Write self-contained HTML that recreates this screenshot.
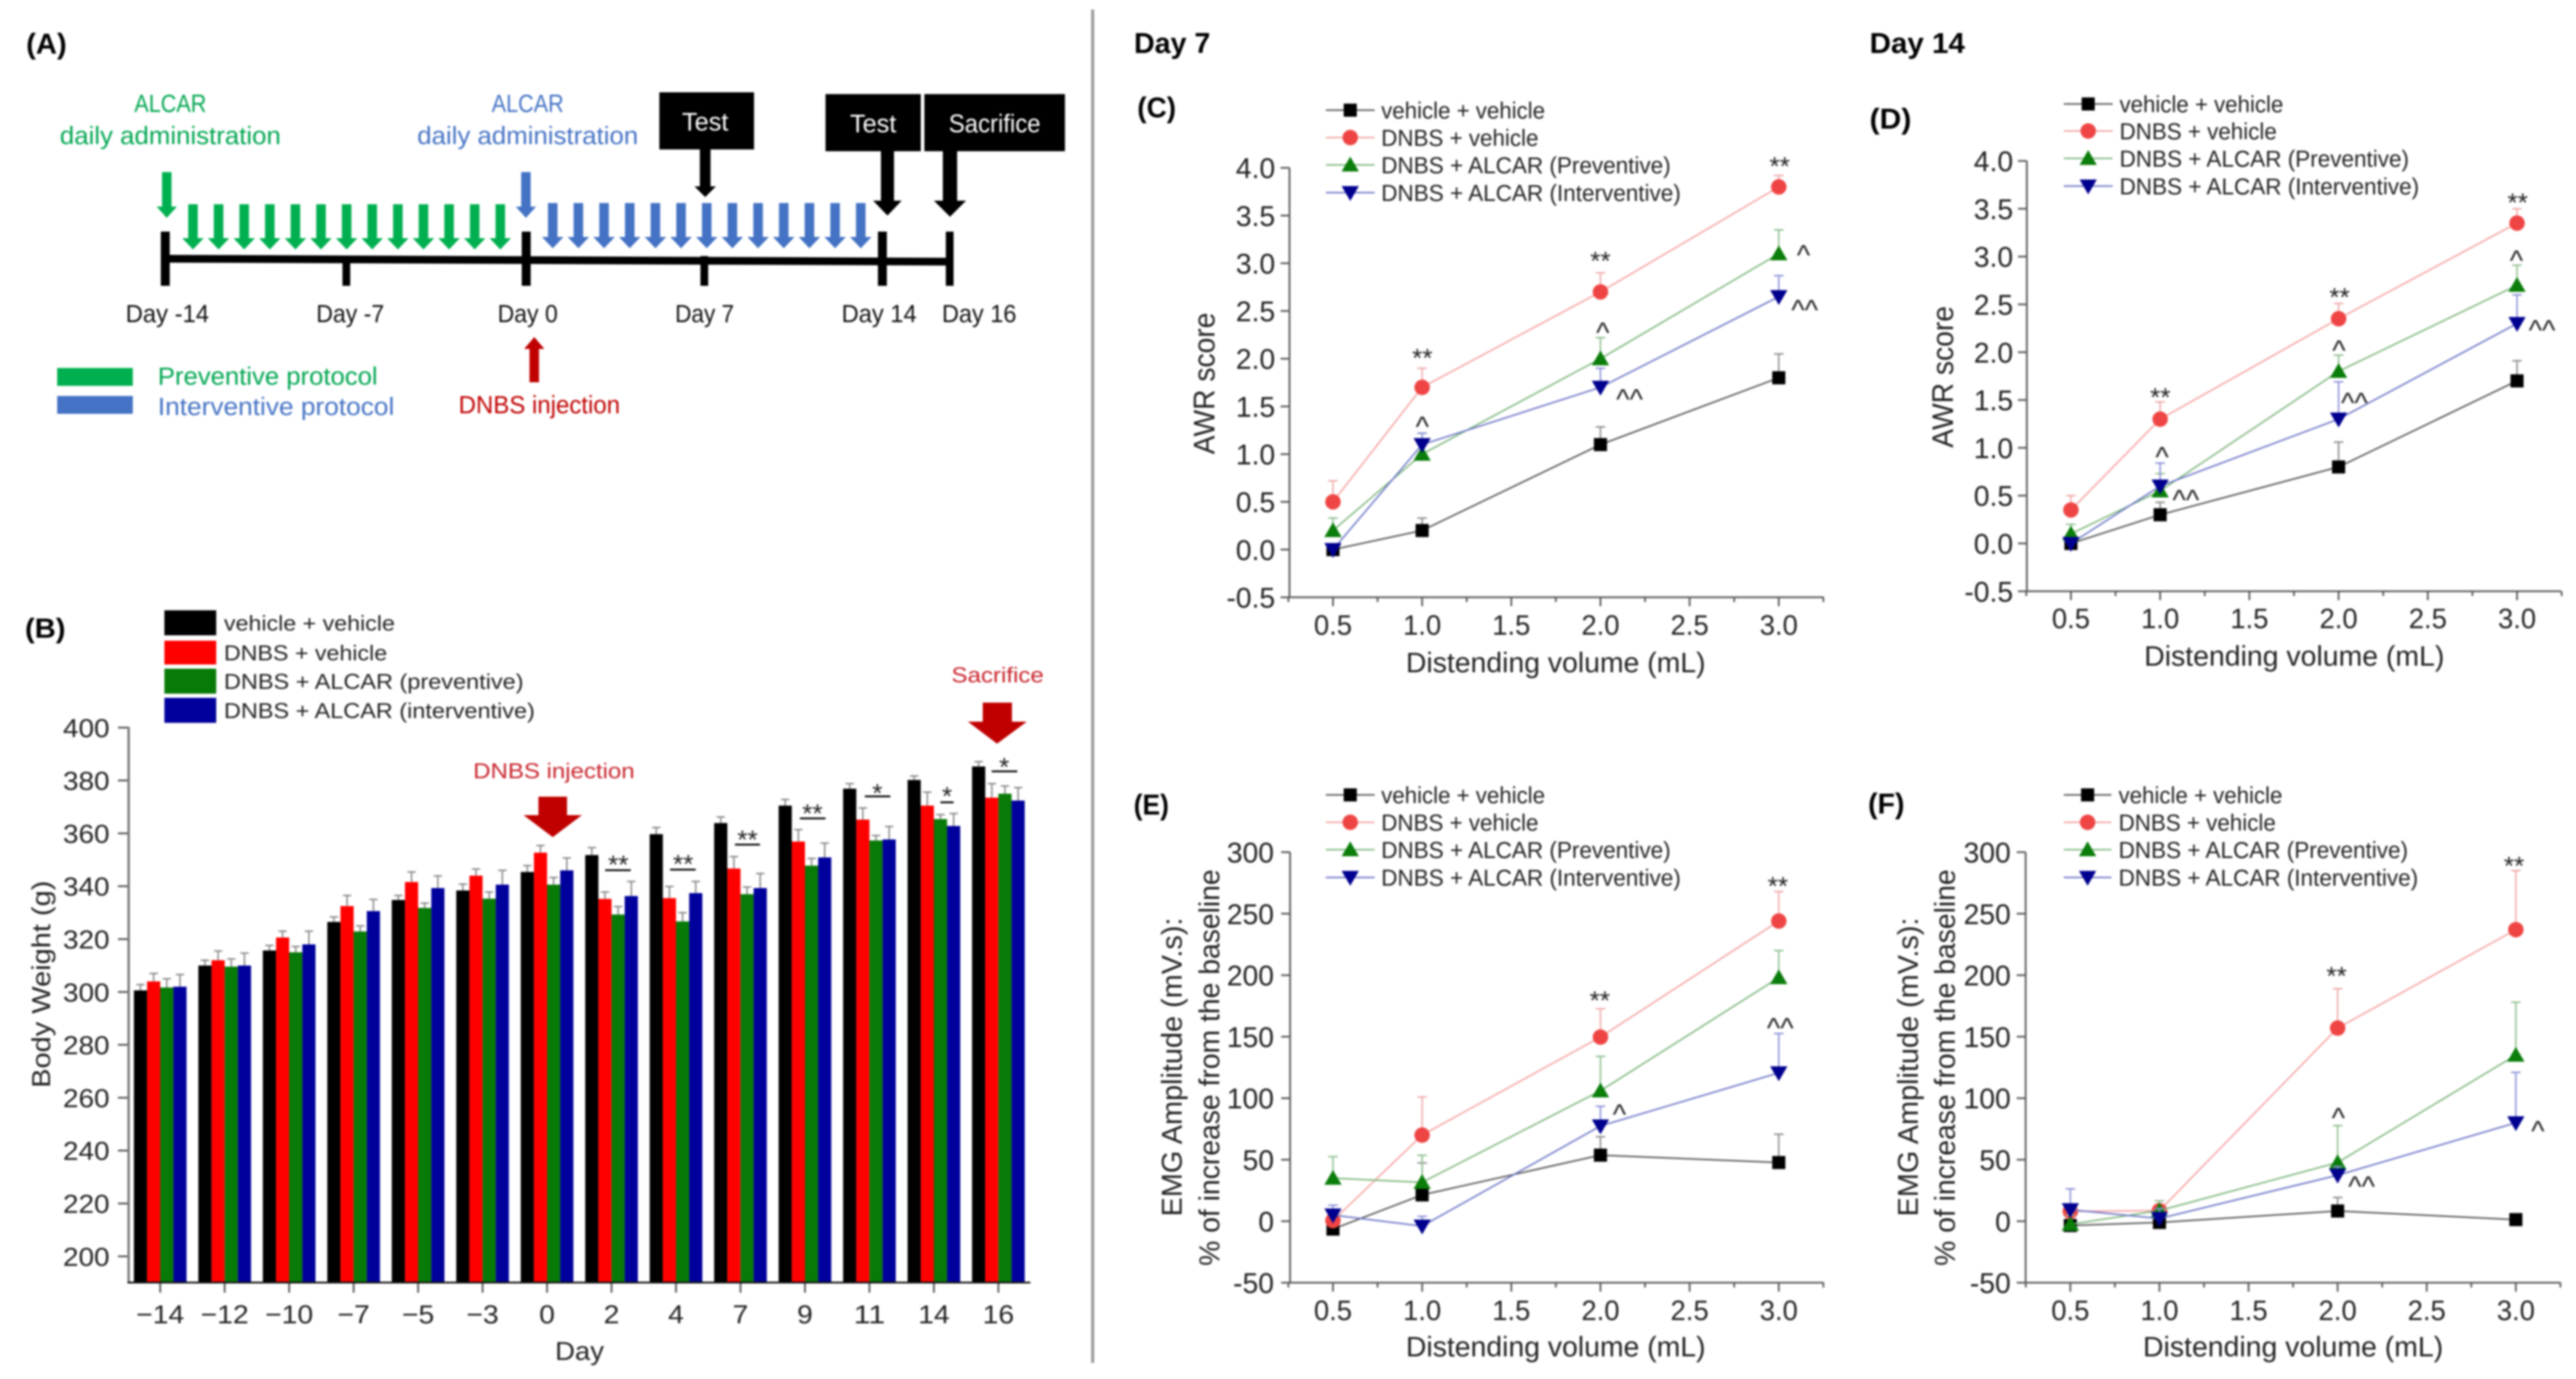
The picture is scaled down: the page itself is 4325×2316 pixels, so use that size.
<!DOCTYPE html>
<html lang="en">
<head>
<meta charset="utf-8">
<title>ALCAR protocol, body weight, AWR score and EMG amplitude</title>
<style>
html,body{margin:0;padding:0;background:#fff;width:4325px;height:2316px;overflow:hidden}
svg{display:block}
text{font-family:"Liberation Sans",Arial,sans-serif;fill:#222}
#root{filter:blur(1.7px)}
</style>
</head>
<body>
<svg id="figure" xmlns="http://www.w3.org/2000/svg" width="4325" height="2316" viewBox="0 0 4325 2316">
<rect width="4325" height="2316" fill="#fff"/>
<g id="root">

<!-- Panel A -->
<g id="panelA">
<text x="78" y="90" text-anchor="middle" font-size="48" font-weight="bold" textLength="68" lengthAdjust="spacingAndGlyphs" style="fill:#000">(A)</text>
<text x="286" y="188" text-anchor="middle" font-size="42" textLength="121" lengthAdjust="spacingAndGlyphs" style="fill:#00a651">ALCAR</text>
<text x="286" y="242" text-anchor="middle" font-size="42" textLength="371" lengthAdjust="spacingAndGlyphs" style="fill:#00a651">daily administration</text>
<text x="886" y="188" text-anchor="middle" font-size="42" textLength="121" lengthAdjust="spacingAndGlyphs" style="fill:#4472c4">ALCAR</text>
<text x="886" y="242" text-anchor="middle" font-size="42" textLength="371" lengthAdjust="spacingAndGlyphs" style="fill:#4472c4">daily administration</text>

<rect x="1107" y="155" width="159" height="96" fill="#000"/>
<text x="1184" y="219" text-anchor="middle" font-size="43" textLength="78" lengthAdjust="spacingAndGlyphs" style="fill:#fff">Test</text>
<rect x="1386" y="158" width="160" height="96" fill="#000"/>
<text x="1466" y="222" text-anchor="middle" font-size="43" textLength="78" lengthAdjust="spacingAndGlyphs" style="fill:#fff">Test</text>
<rect x="1552" y="158" width="236" height="96" fill="#000"/>
<text x="1670" y="222" text-anchor="middle" font-size="43" textLength="154" lengthAdjust="spacingAndGlyphs" style="fill:#fff">Sacrifice</text>

<polygon fill="#000" points="1175,251 1193,251 1193,313 1202,313 1184,331 1166,313 1175,313"/>
<polygon fill="#000" points="1479,254 1501,254 1501,337 1514,337 1490,362 1466,337 1479,337"/>
<polygon fill="#000" points="1583,254 1607,254 1607,337 1622,337 1595,364 1568,337 1583,337"/>

<polygon fill="#00b050" points="272,289 288,289 288,347 297,347 280,366 263,347 272,347"/>
<polygon fill="#4472c4" points="875,289 891,289 891,347 900,347 883,366 866,347 875,347"/>

<polygon fill="#000" points="278,428 1595,433 1595,446 278,441"/>
<rect x="270" y="389" width="15" height="91" fill="#000"/>
<rect x="575" y="430" width="13" height="50" fill="#000"/>
<rect x="876" y="389" width="15" height="91" fill="#000"/>
<rect x="1176" y="430" width="13" height="50" fill="#000"/>
<rect x="1474" y="389" width="15" height="91" fill="#000"/>
<rect x="1588" y="389" width="13" height="91" fill="#000"/>

<text x="281" y="541" text-anchor="middle" font-size="42" textLength="140" lengthAdjust="spacingAndGlyphs" style="fill:#111">Day -14</text>
<text x="588" y="541" text-anchor="middle" font-size="42" textLength="114" lengthAdjust="spacingAndGlyphs" style="fill:#111">Day -7</text>
<text x="886" y="541" text-anchor="middle" font-size="42" textLength="101" lengthAdjust="spacingAndGlyphs" style="fill:#111">Day 0</text>
<text x="1183" y="541" text-anchor="middle" font-size="42" textLength="99" lengthAdjust="spacingAndGlyphs" style="fill:#111">Day 7</text>
<text x="1476" y="541" text-anchor="middle" font-size="42" textLength="126" lengthAdjust="spacingAndGlyphs" style="fill:#111">Day 14</text>
<text x="1644" y="541" text-anchor="middle" font-size="42" textLength="125" lengthAdjust="spacingAndGlyphs" style="fill:#111">Day 16</text>

<rect x="96" y="618" width="127" height="30" fill="#00b050"/>
<rect x="96" y="665" width="127" height="30" fill="#4472c4"/>
<text x="265" y="646" font-size="42" textLength="369" lengthAdjust="spacingAndGlyphs" style="fill:#00a651">Preventive protocol</text>
<text x="265" y="697" font-size="42" textLength="397" lengthAdjust="spacingAndGlyphs" style="fill:#4472c4">Interventive protocol</text>
<polygon fill="#c00000" points="897,566 914,586 905,586 905,642 889,642 889,586 880,586"/>
<text x="770" y="694" font-size="42" textLength="271" lengthAdjust="spacingAndGlyphs" style="fill:#c00000">DNBS injection</text>
</g>

<!-- Panel B static parts -->
<g id="panelB">
<text x="76" y="1071" text-anchor="middle" font-size="46" font-weight="bold" textLength="68" lengthAdjust="spacingAndGlyphs" style="fill:#000">(B)</text>
<rect x="276" y="1025" width="87" height="42" fill="#000"/>
<rect x="276" y="1076" width="87" height="40" fill="#ff0000"/>
<rect x="276" y="1123" width="87" height="42" fill="#087a08"/>
<rect x="276" y="1172" width="87" height="42" fill="#00009c"/>
<text x="376" y="1059" font-size="36" textLength="287" lengthAdjust="spacingAndGlyphs">vehicle + vehicle</text>
<text x="376" y="1109" font-size="36" textLength="274" lengthAdjust="spacingAndGlyphs">DNBS + vehicle</text>
<text x="376" y="1157" font-size="36" textLength="503" lengthAdjust="spacingAndGlyphs">DNBS + ALCAR (preventive)</text>
<text x="376" y="1206" font-size="36" textLength="522" lengthAdjust="spacingAndGlyphs">DNBS + ALCAR (interventive)</text>
<text transform="translate(84,1653) rotate(-90)" text-anchor="middle" font-size="44" textLength="348" lengthAdjust="spacingAndGlyphs">Body Weight (g)</text>
<text x="973" y="2284" text-anchor="middle" font-size="44" textLength="82" lengthAdjust="spacingAndGlyphs">Day</text>
<text x="930" y="1307" text-anchor="middle" font-size="36" textLength="271" lengthAdjust="spacingAndGlyphs" style="fill:#c8242c">DNBS injection</text>
<polygon fill="#c00000" points="904,1338 952,1338 952,1369 977,1369 928,1406 879,1369 904,1369"/>
<text x="1675" y="1146" text-anchor="middle" font-size="36" textLength="155" lengthAdjust="spacingAndGlyphs" style="fill:#c8242c">Sacrifice</text>
<polygon fill="#c00000" points="1650,1180 1699,1180 1699,1212 1724,1212 1674,1249 1625,1212 1650,1212"/>
<g id="barPlot"></g>
<g fill="#000">
<rect x="1016" y="1460" width="43" height="3"/>
<rect x="1125" y="1459" width="43" height="3"/>
<rect x="1234" y="1417" width="42" height="3"/>
<rect x="1343" y="1373" width="43" height="3"/>
<rect x="1452" y="1336" width="43" height="3"/>
<rect x="1579" y="1346" width="22" height="3"/>
<rect x="1665" y="1294" width="43" height="3"/>
</g>
<g font-size="44" text-anchor="middle">
<text x="1038" y="1467">**</text>
<text x="1147" y="1466">**</text>
<text x="1255" y="1425">**</text>
<text x="1364" y="1381">**</text>
<text x="1473" y="1347">*</text>
<text x="1590" y="1352">*</text>
<text x="1686" y="1303">*</text>
</g>
</g>

<rect x="1832" y="16" width="5" height="2273" fill="#999"/>

<!-- Right headers and titles -->
<text x="1968" y="89" text-anchor="middle" font-size="48" font-weight="bold" textLength="128" lengthAdjust="spacingAndGlyphs" style="fill:#000">Day 7</text>
<text x="3219" y="89" text-anchor="middle" font-size="48" font-weight="bold" textLength="160" lengthAdjust="spacingAndGlyphs" style="fill:#000">Day 14</text>
<text x="1942" y="197" text-anchor="middle" font-size="48" font-weight="bold" textLength="65" lengthAdjust="spacingAndGlyphs" style="fill:#000">(C)</text>
<text x="3174" y="216" text-anchor="middle" font-size="48" font-weight="bold" textLength="70" lengthAdjust="spacingAndGlyphs" style="fill:#000">(D)</text>
<text x="1933" y="1368" text-anchor="middle" font-size="48" font-weight="bold" textLength="59" lengthAdjust="spacingAndGlyphs" style="fill:#000">(E)</text>
<text x="3167" y="1366" text-anchor="middle" font-size="48" font-weight="bold" textLength="61" lengthAdjust="spacingAndGlyphs" style="fill:#000">(F)</text>

<text transform="translate(2039,644) rotate(-90)" text-anchor="middle" font-size="50" textLength="238" lengthAdjust="spacingAndGlyphs">AWR score</text>
<text x="2612" y="1129" text-anchor="middle" font-size="47" textLength="503" lengthAdjust="spacingAndGlyphs">Distending volume (mL)</text>
<text transform="translate(3279,633) rotate(-90)" text-anchor="middle" font-size="50" textLength="238" lengthAdjust="spacingAndGlyphs">AWR score</text>
<text x="3852" y="1118" text-anchor="middle" font-size="47" textLength="504" lengthAdjust="spacingAndGlyphs">Distending volume (mL)</text>
<text transform="translate(1984,1792) rotate(-90)" text-anchor="middle" font-size="48" textLength="502" lengthAdjust="spacingAndGlyphs">EMG Amplitude (mV.s):</text>
<text transform="translate(2047,1793) rotate(-90)" text-anchor="middle" font-size="48" textLength="666" lengthAdjust="spacingAndGlyphs">% of increase from the baseline</text>
<text x="2612" y="2278" text-anchor="middle" font-size="47" textLength="503" lengthAdjust="spacingAndGlyphs">Distending volume (mL)</text>
<text transform="translate(3220,1792) rotate(-90)" text-anchor="middle" font-size="48" textLength="502" lengthAdjust="spacingAndGlyphs">EMG Amplitude (mV.s):</text>
<text transform="translate(3282,1793) rotate(-90)" text-anchor="middle" font-size="48" textLength="666" lengthAdjust="spacingAndGlyphs">% of increase from the baseline</text>
<text x="3850" y="2278" text-anchor="middle" font-size="47" textLength="504" lengthAdjust="spacingAndGlyphs">Distending volume (mL)</text>

<g id="linePlots"></g>

<!-- significance marks on line panels -->
<g font-size="44" text-anchor="middle">
<text x="2388" y="616">**</text>
<text x="2687" y="453">**</text>
<text x="2988" y="294">**</text>
<text x="3627" y="682">**</text>
<text x="3928" y="514">**</text>
<text x="4227" y="355">**</text>
<text x="2686" y="1695">**</text>
<text x="2985" y="1503">**</text>
<text x="3923" y="1654">**</text>
<text x="4221" y="1469">**</text>
</g>
<g font-size="48" text-anchor="middle">
<text x="2388" y="733">^</text>
<text x="2691" y="575">^</text>
<text x="3028" y="445">^</text>
<text x="2736" y="687">^^</text>
<text x="3030" y="537">^^</text>
<text x="3630" y="784">^</text>
<text x="3927" y="605">^</text>
<text x="4225" y="454">^</text>
<text x="3670" y="856">^^</text>
<text x="3953" y="693">^^</text>
<text x="4268" y="571">^^</text>
<text x="2719" y="1888">^</text>
<text x="2989" y="1743">^^</text>
<text x="3926" y="1894">^</text>
<text x="4261" y="1916">^</text>
<text x="3965" y="2009">^^</text>
</g>
</g>
</svg>

<script>
/* ---------- Panel B data ---------- */
const barDays = ['\u221214','\u221212','\u221210','\u22127','\u22125','\u22123','0','2','4','7','9','11','14','16'];
const bodyWeightTicks = ['200','220','240','260','280','300','320','340','360','380','400'];
const weightVehicle = [300.6,310,315.7,326.5,334.8,338.4,345.4,351.8,359.7,363.9,370.5,376.9,380.2,385.3];
const weightDnbs = [304,312,320.6,332.5,341.6,344,352.7,335.2,335.5,346.7,356.9,365.2,370.5,373.5];
const weightPreventive = [301.7,309.6,315,322.9,331.8,335.3,340.6,329.3,326.7,337,347.8,357.3,365.4,375];
const weightInterventive = [302,310,318,330.6,339.3,340.6,346,336.3,337.4,339.3,350.9,357.7,362.8,372.4];
const weightVehicleErr = [2.2,2,1.9,1.9,1.7,2.4,2.4,2.8,2.5,2.3,2.3,1.9,1.5,1.8];
const weightDnbsErr = [3,3.5,2.4,4,3.8,2.5,2.7,2.6,4.4,4.5,4.5,4.4,5.1,5.3];
const weightPreventiveErr = [3.3,2.9,2.2,2.1,1.8,2.5,2.7,3,3.3,2.7,2.7,1.9,1.7,2.9];
const weightInterventiveErr = [4.6,4.7,5,4.4,4.6,5.4,4.7,5.5,4.4,5.5,5.4,4.9,4.7,4.9];

/* ---------- Line panels data ---------- */
const volumeTicks = ['0.5','1.0','1.5','2.0','2.5','3.0'];
const volumes = ['0.5','1.0','2.0','3.0'];
const awrTicks = ['-0.5','0.0','0.5','1.0','1.5','2.0','2.5','3.0','3.5','4.0'];
const emgTicks = ['-50','0','50','100','150','200','250','300'];
const seriesNames = ['vehicle + vehicle','DNBS + vehicle','DNBS + ALCAR (Preventive)','DNBS + ALCAR (Interventive)'];

const cVehicle = [0,0.2,1.1,1.8];
const cDnbs = [0.5,1.7,2.7,3.8];
const cPreventive = [0.2,1.0,2.0,3.1];
const cInterventive = [0,1.1,1.7,2.65];
const cVehicleErr = [0,0.13,0.185,0.25];
const cDnbsErr = [0.22,0.2,0.2,0.12];
const cPreventiveErr = [0.13,0.22,0.22,0.25];
const cInterventiveErr = [0,0.12,0.2,0.22];

const dVehicle = [0,0.3,0.8,1.7];
const dDnbs = [0.35,1.3,2.35,3.35];
const dPreventive = [0.1,0.55,1.8,2.7];
const dInterventive = [0,0.6,1.3,2.3];
const dVehicleErr = [0,0.13,0.26,0.21];
const dDnbsErr = [0.15,0.18,0.16,0.15];
const dPreventiveErr = [0.1,0.18,0.17,0.21];
const dInterventiveErr = [0,0.24,0.39,0.3];

const eVehicle = [-6.4,21.4,53.7,47.7];
const eDnbs = [0.5,70,149.7,244];
const ePreventive = [35,31.6,106,198];
const eInterventive = [5,-4,77.4,120.6];
const eVehicleErr = [0,26,15,23];
const eDnbsErr = [0,31,23,24];
const ePreventiveErr = [17.5,22,28,22];
const eInterventiveErr = [8,8,16,32];

const fVehicle = [-3.5,-1,8.3,1.3];
const fDnbs = [8,8.6,157,237];
const fPreventive = [-2.5,8.6,47.7,135];
const fInterventive = [9.3,2.2,37.4,80];
const fVehicleErr = [0,0,11,0];
const fDnbsErr = [0,8,32,48];
const fPreventiveErr = [7.5,8,30,43];
const fInterventiveErr = [17,8,7,41];

/* ---------- Helpers ---------- */
const NS = 'http://www.w3.org/2000/svg';
function mk(parent, tag, attrs) {
  const el = document.createElementNS(NS, tag);
  for (const k in attrs) el.setAttribute(k, attrs[k]);
  parent.appendChild(el);
  return el;
}
function numWidth(s, fs, stretch) {
  let em = 0;
  for (const c of s) {
    if (c === '.') em += 0.278;
    else if (c === '-') em += 0.333;
    else if (c === '\u2212') em += 0.584;
    else em += 0.556;
  }
  return em * fs * stretch;
}
function numText(parent, s, x, y, fs, anchor, stretch) {
  const t = mk(parent, 'text', {x: x, y: y + fs * 0.36, 'font-size': fs, 'text-anchor': anchor,
    textLength: numWidth(s, fs, stretch).toFixed(1), lengthAdjust: 'spacingAndGlyphs'});
  t.textContent = s;
  return t;
}

/* ---------- Panel A repeated dose arrows ---------- */
const panelA = document.getElementById('panelA');
function doseArrow(x, top, fill) {
  const pts = [[x-8,top],[x+8,top],[x+8,top+57],[x+18,top+57],[x,top+76],[x-18,top+57],[x-8,top+57]];
  return mk(panelA, 'polygon', {points: pts.map(p => p.join(',')).join(' '), fill: fill});
}
for (let i = 0; i < 13; i++) {
  const g = doseArrow(324 + 43 * i, 343, '#00b050');
  
  
  const b = doseArrow(928 + 43.1 * i, 341, '#4472c4');
  
  
}

/* ---------- Panel B chart ---------- */
const barPlot = document.getElementById('barPlot');
const barX = i => 269 + 108.25 * i;
const barY = v => 1222 + (400 - v) * 4.44;
const barBase = 2154;
const barWidth = 22.1;
const barSeriesColors = ['#000000','#ff0000','#087a08','#00009c'];
const barSeries = [weightVehicle, weightDnbs, weightPreventive, weightInterventive];
const barErrors = [weightVehicleErr, weightDnbsErr, weightPreventiveErr, weightInterventiveErr];

barDays.forEach((day, i) => {
  barSeries.forEach((vals, j) => {
    const left = barX(i) + (j - 2) * barWidth;
    const top = barY(vals[i]);
    const cx = left + barWidth / 2;
    const errTop = barY(vals[i] + barErrors[j][i]);
    const stem = mk(barPlot, 'line', {x1: cx, x2: cx, y1: top, y2: errTop, stroke: '#8a8a8a', 'stroke-width': 2.5});
    
    
    const cap = mk(barPlot, 'line', {x1: cx - 7, x2: cx + 7, y1: errTop, y2: errTop, stroke: '#8a8a8a', 'stroke-width': 2.5});
    
    
    const bar = mk(barPlot, 'rect', {x: left, y: top, width: barWidth, height: barBase - top, fill: barSeriesColors[j]});
    
    
  });
  const tick = mk(barPlot, 'line', {x1: barX(i), x2: barX(i), y1: barBase, y2: barBase + 17, stroke: '#555', 'stroke-width': 3});
  
  
  const label = numText(barPlot, day, barX(i), 2206.5, 44, 'middle', 1.08);
  
  
});
bodyWeightTicks.forEach(s => {
  const y = barY(parseFloat(s));
  const tick = mk(barPlot, 'line', {x1: 198, x2: 217, y1: y, y2: y, stroke: '#555', 'stroke-width': 3});
  
  
  const label = numText(barPlot, s, 184, y, 44, 'end', 1.065);
  
  
});
const barSpine = mk(barPlot, 'line', {x1: 216, x2: 216, y1: 1221, y2: barBase, stroke: '#777', 'stroke-width': 4});


const barBaseLine = mk(barPlot, 'line', {x1: 214, x2: 1730, y1: barBase, y2: barBase, stroke: '#111', 'stroke-width': 3});



/* ---------- Line panels ---------- */
const linePlots = document.getElementById('linePlots');
const lineColors = ['#555555','#f5a3a3','#7fb77f','#6f78c8'];
const errColors = ['#8c8c8c','#f0a8a8','#8fbf8f','#8a90d8'];
const markerColors = ['#000000','#ef4444','#0a7d0a','#00008f'];
const legendWidths = [275,264,486,503];

function marker(parent, kind, x, y) {
  const fill = markerColors[kind];
  if (kind === 0) return mk(parent, 'rect', {x: x - 11, y: y - 11, width: 22, height: 22, fill: fill});
  if (kind === 1) return mk(parent, 'circle', {cx: x, cy: y, r: 13, fill: fill});
  if (kind === 2) return mk(parent, 'polygon', {points: (x-14.5)+','+(y+11)+' '+(x+14.5)+','+(y+11)+' '+x+','+(y-14), fill: fill});
  return mk(parent, 'polygon', {points: (x-14.5)+','+(y-11)+' '+(x+14.5)+','+(y-11)+' '+x+','+(y+14), fill: fill});
}

function drawPanel(cfg) {
  const g = mk(linePlots, 'g', {});
  
  
  const X = vol => cfg.x0 + volumeTicks.indexOf(vol) * cfg.step;
  const Y = v => cfg.yZero - v * cfg.ppu;
  const yBottom = Y(parseFloat(cfg.yTicks[0]));
  const yTop = Y(parseFloat(cfg.yTicks[cfg.yTicks.length - 1]));

  /* axes */
  const spine = mk(g, 'line', {x1: cfg.spineX, x2: cfg.spineX, y1: yTop, y2: yBottom, stroke: '#5a5a5a', 'stroke-width': 3});
  
  
  const base = mk(g, 'line', {x1: cfg.spineX, x2: cfg.endX, y1: yBottom, y2: yBottom, stroke: '#5a5a5a', 'stroke-width': 3});
  
  

  cfg.yTicks.forEach(s => {
    const y = Y(parseFloat(s));
    const tick = mk(g, 'line', {x1: cfg.spineX - 15, x2: cfg.spineX, y1: y, y2: y, stroke: '#5a5a5a', 'stroke-width': 3});
    
    
    const label = numText(g, s, cfg.yLabelRight, y, 48, 'end', 0.99);
    
    
  });
  volumeTicks.forEach(s => {
    const x = X(s);
    const tick = mk(g, 'line', {x1: x, x2: x, y1: yBottom, y2: yBottom + 15, stroke: '#5a5a5a', 'stroke-width': 3});
    
    
    const minor = mk(g, 'line', {x1: x + cfg.step / 2, x2: x + cfg.step / 2, y1: yBottom, y2: yBottom + 8, stroke: '#5a5a5a', 'stroke-width': 3});
    
    
    const label = numText(g, s, x, cfg.xLabelY, 47, 'middle', 0.98);
    
    
  });
  const firstMinor = mk(g, 'line', {x1: cfg.x0 - cfg.step / 2, x2: cfg.x0 - cfg.step / 2, y1: yBottom, y2: yBottom + 8, stroke: '#5a5a5a', 'stroke-width': 3});
  
  

  /* series */
  cfg.values.forEach((vals, k) => {
    const sg = mk(g, 'g', {});
    
    
    vals.forEach((v, i) => {
      const err = cfg.errors[k][i];
      if (err > 0) {
        const x = X(volumes[i]);
        const stem = mk(sg, 'line', {x1: x, x2: x, y1: Y(v), y2: Y(v + err), stroke: errColors[k], 'stroke-width': 2.5});
        
        
        const cap = mk(sg, 'line', {x1: x - 8, x2: x + 8, y1: Y(v + err), y2: Y(v + err), stroke: errColors[k], 'stroke-width': 2.5});
        
        
      }
    });
    const path = mk(sg, 'polyline', {points: vals.map((v, i) => X(volumes[i]) + ',' + Y(v)).join(' '), fill: 'none', stroke: lineColors[k], 'stroke-width': 2.5});
    
    
    vals.forEach((v, i) => {
      const m = marker(sg, k, X(volumes[i]), Y(v));
      
      
    });
  });

  /* legend */
  seriesNames.forEach((name, k) => {
    const y = cfg.legendYs[k];
    const ln = mk(g, 'line', {x1: cfg.legendX1, x2: cfg.legendX2, y1: y, y2: y, stroke: lineColors[k], 'stroke-width': 2.5});
    
    
    const m = marker(g, k, (cfg.legendX1 + cfg.legendX2) / 2, y);
    
    
    const t = mk(g, 'text', {x: cfg.legendText, y: y + 14, 'font-size': 39, textLength: legendWidths[k], lengthAdjust: 'spacingAndGlyphs'});
    t.textContent = name;
    
    
  });
}

drawPanel({name: 'panel-c-awr-day-7', x0: 2238, step: 149.7, spineX: 2165, endX: 3062, yZero: 923, ppu: 160.28, yTicks: awrTicks, yLabelRight: 2141, xLabelY: 1049,
  values: [cVehicle, cDnbs, cPreventive, cInterventive], errors: [cVehicleErr, cDnbsErr, cPreventiveErr, cInterventiveErr],
  legendYs: [185,231,277,323.5], legendX1: 2226, legendX2: 2308, legendText: 2319});
drawPanel({name: 'panel-d-awr-day-14', x0: 3477, step: 149.8, spineX: 3403, endX: 4300, yZero: 912.7, ppu: 160.6, yTicks: awrTicks, yLabelRight: 3380, xLabelY: 1038,
  values: [dVehicle, dDnbs, dPreventive, dInterventive], errors: [dVehicleErr, dDnbsErr, dPreventiveErr, dInterventiveErr],
  legendYs: [174.6,220,266,312.5], legendX1: 3465, legendX2: 3547, legendText: 3558.6});
drawPanel({name: 'panel-e-emg-day-7', x0: 2238, step: 149.7, spineX: 2166, endX: 3062, yZero: 2051, ppu: 2.066, yTicks: emgTicks, yLabelRight: 2139, xLabelY: 2200,
  values: [eVehicle, eDnbs, ePreventive, eInterventive], errors: [eVehicleErr, eDnbsErr, ePreventiveErr, eInterventiveErr],
  legendYs: [1335,1381,1427,1473.6], legendX1: 2226, legendX2: 2308, legendText: 2319});
drawPanel({name: 'panel-f-emg-day-14', x0: 3476, step: 149.6, spineX: 3401, endX: 4299, yZero: 2051, ppu: 2.066, yTicks: emgTicks, yLabelRight: 3376, xLabelY: 2200,
  values: [fVehicle, fDnbs, fPreventive, fInterventive], errors: [fVehicleErr, fDnbsErr, fPreventiveErr, fInterventiveErr],
  legendYs: [1335,1381,1427,1473.6], legendX1: 3465, legendX2: 3545, legendText: 3557});
</script>
</body>
</html>
